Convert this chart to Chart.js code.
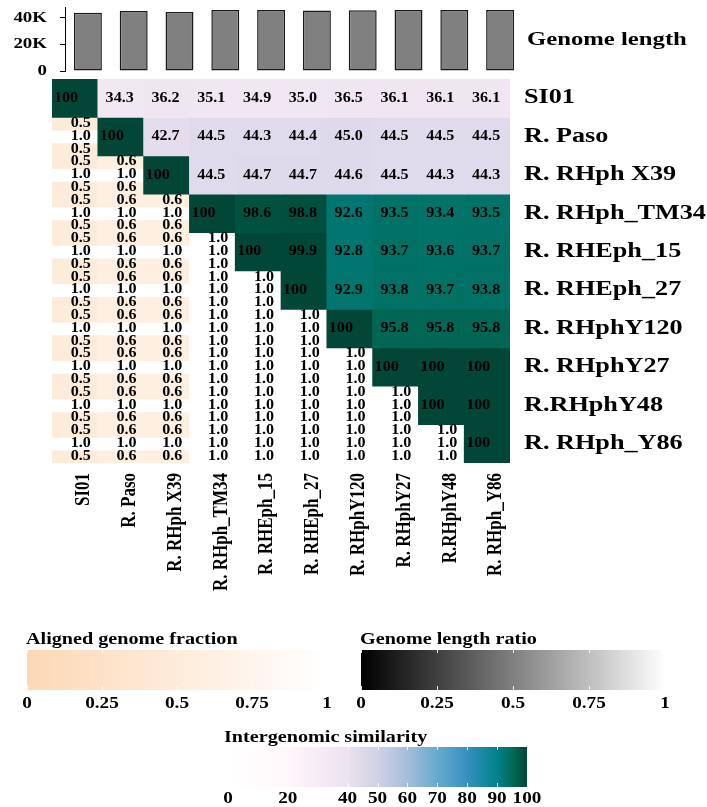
<!DOCTYPE html>
<html lang="en">
<head>
  <meta charset="UTF-8" />
  <title>Intergenomic similarity</title>
  <script src="https://cdn.jsdelivr.net/npm/chart.js"></script>
  <style>
    html, body { margin: 0; padding: 0; background: #fff; }
    body { position: relative; width: 707px; height: 807px; overflow: hidden; }
    canvas { position: absolute; }
  </style>
</head>
<body>
  <canvas id="lenChart" width="707" height="80" style="left:0;top:0"></canvas>
  <canvas id="heatChart" width="707" height="545" style="left:0;top:75px"></canvas>
  <canvas id="fracLegend" width="353" height="100" style="left:0;top:620px"></canvas>
  <canvas id="ratioLegend" width="354" height="100" style="left:353px;top:620px"></canvas>
  <canvas id="simLegend" width="400" height="87" style="left:180px;top:720px"></canvas>

  <script>
    // genomes, in row / column order
    const names = ["SI01", "R. Paso", "R. RHph X39", "R. RHph_TM34", "R. RHEph_15",
                   "R. RHEph_27", "R. RHphY120", "R. RHphY27", "R.RHphY48", "R. RHph_Y86"];
    const genomeLength = [44000, 45300, 44600, 46000, 46000, 45600, 45800, 46000, 46000, 46000];
    const lengthTicks = [0, 20000, 40000];

    // upper triangle: row i starts at column i
    const simRows = [
      [100, 34.3, 36.2, 35.1, 34.9, 35.0, 36.5, 36.1, 36.1, 36.1],
      [100, 42.7, 44.5, 44.3, 44.4, 45.0, 44.5, 44.5, 44.5],
      [100, 44.5, 44.7, 44.7, 44.6, 44.5, 44.3, 44.3],
      [100, 98.6, 98.8, 92.6, 93.5, 93.4, 93.5],
      [100, 99.9, 92.8, 93.7, 93.6, 93.7],
      [100, 92.9, 93.8, 93.7, 93.8],
      [100, 95.8, 95.8, 95.8],
      [100, 100, 100],
      [100, 100],
      [100]
    ];
    // lower triangle: row i has columns 0..i-1
    const fracRow = [
      [], [0.5], [0.5, 0.6], [0.5, 0.6, 0.6], [0.5, 0.6, 0.6, 1.0],
      [0.5, 0.6, 0.6, 1.0, 1.0], [0.5, 0.6, 0.6, 1.0, 1.0, 1.0],
      [0.5, 0.6, 0.6, 1.0, 1.0, 1.0, 1.0], [0.5, 0.6, 0.6, 1.0, 1.0, 1.0, 1.0, 1.0],
      [0.5, 0.6, 0.6, 1.0, 1.0, 1.0, 1.0, 1.0, 1.0]
    ];
    const lenRatio = [
      [], [1.0], [1.0, 1.0], [1.0, 1.0, 1.0], [1.0, 1.0, 1.0, 1.0],
      [1.0, 1.0, 1.0, 1.0, 1.0], [1.0, 1.0, 1.0, 1.0, 1.0, 1.0],
      [1.0, 1.0, 1.0, 1.0, 1.0, 1.0, 1.0], [1.0, 1.0, 1.0, 1.0, 1.0, 1.0, 1.0, 1.0],
      [1.0, 1.0, 1.0, 1.0, 1.0, 1.0, 1.0, 1.0, 1.0]
    ];
    const fracCol = [
      [], [0.5], [0.5, 0.6], [0.5, 0.6, 0.6], [0.5, 0.6, 0.6, 1.0],
      [0.5, 0.6, 0.6, 1.0, 1.0], [0.5, 0.6, 0.6, 1.0, 1.0, 1.0],
      [0.5, 0.6, 0.6, 1.0, 1.0, 1.0, 1.0], [0.5, 0.6, 0.6, 1.0, 1.0, 1.0, 1.0, 1.0],
      [0.5, 0.6, 0.6, 1.0, 1.0, 1.0, 1.0, 1.0, 1.0]
    ];

    // colour scales
    const simStops = [[0, "#ffffff"], [20, "#fff7fb"], [40, "#ece2f0"], [50, "#d0d1e6"], [60, "#a6bddb"],
                      [70, "#67a9cf"], [80, "#3690c0"], [90, "#02818a"], [95, "#016c59"], [100, "#014636"]];
    const fracStops = [[0, "#fdd8b5"], [1, "#ffffff"]];
    const ratioStops = [[0, "#000000"], [1, "#ffffff"]];
    const fracTicks = [0, 0.25, 0.5, 0.75, 1];
    const simTicks = [0, 20, 40, 50, 60, 70, 80, 90, 100];

    const SERIF = "'Liberation Serif', 'DejaVu Serif', serif";

    function hex(c) {
      return [1, 3, 5].map(k => parseInt(c.slice(k, k + 2), 16));
    }
    function colorAt(stops, v) {
      if (v <= stops[0][0]) return stops[0][1];
      for (let k = 1; k < stops.length; k++) {
        if (v <= stops[k][0]) {
          const t = (v - stops[k - 1][0]) / (stops[k][0] - stops[k - 1][0]);
          const a = hex(stops[k - 1][1]), b = hex(stops[k][1]);
          const m = a.map((x, n) => Math.round(x + (b[n] - x) * t));
          return `rgb(${m[0]},${m[1]},${m[2]})`;
        }
      }
      return stops[stops.length - 1][1];
    }

    // text a little wider than the font, like the picture
    function sText(ctx, str, x, y, align, sx) {
      ctx.save();
      ctx.translate(x, y);
      ctx.scale(sx, 1);
      ctx.textAlign = align;
      ctx.fillText(str, 0, 0);
      ctx.restore();
    }

    // ---------- genome length bars ----------
    new Chart(document.getElementById("lenChart"), {
      type: "bar",
      data: {
        labels: names,
        datasets: [{
          data: genomeLength,
          backgroundColor: "#808080",
          borderColor: "#1a1a1a",
          borderWidth: 1.5,
          borderSkipped: false,
          barPercentage: 0.61,
          categoryPercentage: 1
        }]
      },
      options: {
        responsive: false,
        animation: false,
        events: [],
        layout: { padding: { left: 0, right: 184, top: 7, bottom: 9 } },
        plugins: { legend: { display: false }, tooltip: { enabled: false } },
        scales: {
          x: { display: false },
          y: {
            min: 0,
            max: 48300,
            afterBuildTicks: s => { s.ticks = lengthTicks.map(v => ({ value: v })); },
            afterFit: s => { s.width = 65; },
            ticks: { display: false },
            grid: { drawOnChartArea: false, drawTicks: true, tickLength: 5, color: "#000" },
            border: { display: true, color: "#000", width: 1 }
          }
        }
      },
      plugins: [{
        id: "lenText",
        afterDraw(chart) {
          const ctx = chart.ctx, y = chart.scales.y;
          ctx.save();
          ctx.fillStyle = "#000";
          ctx.textBaseline = "middle";
          ctx.font = `bold 14px ${SERIF}`;
          lengthTicks.forEach(v => {
            sText(ctx, v === 0 ? "0" : v / 1000 + "K", 47, y.getPixelForValue(v), "right", 1.35);
          });
          ctx.font = `bold 19px ${SERIF}`;
          sText(ctx, "Genome length", 527, 40, "left", 1.3);
          ctx.restore();
        }
      }]
    });

    // ---------- heatmap ----------
    const cells = [];
    simRows.forEach((row, i) => {
      cells.push({
        data: names.map((_, j) => (j >= i ? [i, i + 1] : null)),
        backgroundColor: names.map((_, j) => (j >= i ? colorAt(simStops, row[j - i]) : "rgba(0,0,0,0)"))
      });
    });
    [fracRow, lenRatio, fracCol].forEach((mat, s) => {
      const stops = s === 1 ? ratioStops : fracStops;
      mat.forEach((row, i) => {
        if (!row.length) return;
        cells.push({
          data: names.map((_, j) => (j < i ? [i + s / 3, i + (s + 1) / 3] : null)),
          backgroundColor: names.map((_, j) => (j < i ? colorAt(stops, row[j]) : "rgba(0,0,0,0)"))
        });
      });
    });
    cells.forEach(d => {
      d.grouped = false;
      d.barPercentage = 1;
      d.categoryPercentage = 1;
      d.borderWidth = 0;
    });

    new Chart(document.getElementById("heatChart"), {
      type: "bar",
      data: { labels: names, datasets: cells },
      options: {
        responsive: false,
        animation: false,
        events: [],
        layout: { padding: { left: 52, right: 197, top: 4, bottom: 157 } },
        plugins: { legend: { display: false }, tooltip: { enabled: false } },
        scales: {
          x: { display: false },
          y: { display: false, min: 0, max: names.length, reverse: true }
        }
      },
      plugins: [{
        id: "cellText",
        afterDatasetsDraw(chart) {
          const ctx = chart.ctx, xs = chart.scales.x, ys = chart.scales.y;
          const half = (xs.getPixelForValue(1) - xs.getPixelForValue(0)) / 2;
          ctx.save();
          ctx.fillStyle = "#000";
          ctx.textBaseline = "middle";
          ctx.font = `bold 14px ${SERIF}`;
          simRows.forEach((row, i) => {
            row.forEach((v, k) => {
              const j = i + k, cx = xs.getPixelForValue(j), cy = ys.getPixelForValue(i + 0.5);
              if (v === 100) sText(ctx, "100", cx - half + 2, cy, "left", 1.15);
              else sText(ctx, v.toFixed(1), cx - 1, cy, "center", 1.15);
            });
          });
          [fracRow, lenRatio, fracCol].forEach((mat, s) => {
            mat.forEach((row, i) => {
              row.forEach((v, j) => {
                const cx = xs.getPixelForValue(j) + half - 7;
                const cy = ys.getPixelForValue(i + (s + 0.5) / 3) - 0.5;
                sText(ctx, v.toFixed(1), cx, cy, "right", 1.15);
              });
            });
          });
          // row names
          ctx.font = `bold 20px ${SERIF}`;
          names.forEach((n, i) => {
            sText(ctx, n, xs.right + 14, ys.getPixelForValue(i + 0.5), "left", 1.31);
          });
          // column names, rotated
          ctx.font = `bold 17px ${SERIF}`;
          names.forEach((n, j) => {
            ctx.save();
            ctx.translate(xs.getPixelForValue(j) + 9, ys.bottom + 10);
            ctx.rotate(-Math.PI / 2);
            ctx.scale(1, 1.2);
            ctx.textAlign = "right";
            ctx.fillText(n, 0, 0);
            ctx.restore();
          });
          ctx.restore();
        }
      }]
    });

    // ---------- colour legends ----------
    function legend(id, title, stops, ticks, pad, tickY, titleX, titleY, fmt) {
      const lo = ticks[0], hi = ticks[ticks.length - 1];
      new Chart(document.getElementById(id), {
        type: "bar",
        data: {
          labels: [""],
          datasets: [{
            data: [[lo, hi]],
            barPercentage: 1,
            categoryPercentage: 1,
            borderWidth: 0,
            backgroundColor: c => {
              const ca = c.chart.chartArea;
              if (!ca) return "#fff";
              const x = c.chart.scales.x;
              const g = c.chart.ctx.createLinearGradient(x.getPixelForValue(lo), 0, x.getPixelForValue(hi), 0);
              stops.forEach(([v, col]) => g.addColorStop((v - lo) / (hi - lo), col));
              return g;
            }
          }]
        },
        options: {
          indexAxis: "y",
          responsive: false,
          animation: false,
          events: [],
          layout: { padding: pad },
          plugins: { legend: { display: false }, tooltip: { enabled: false } },
          scales: {
            x: { display: false, min: lo, max: hi },
            y: { display: false }
          }
        },
        plugins: [{
          id: "legendText",
          afterDraw(chart) {
            const ctx = chart.ctx, x = chart.scales.x, ca = chart.chartArea;
            ctx.save();
            ctx.strokeStyle = "rgba(255,255,255,0.9)";
            ctx.lineWidth = 1;
            ticks.forEach(v => {
              const px = Math.round(x.getPixelForValue(v)) + 0.5;
              ctx.beginPath();
              ctx.moveTo(px, ca.top); ctx.lineTo(px, ca.top + 3);
              ctx.moveTo(px, ca.bottom - 4); ctx.lineTo(px, ca.bottom);
              ctx.stroke();
            });
            ctx.fillStyle = "#000";
            ctx.textBaseline = "alphabetic";
            ctx.font = `bold 16px ${SERIF}`;
            ticks.forEach(v => sText(ctx, fmt(v), x.getPixelForValue(v), tickY, "center", 1.2));
            sText(ctx, title, titleX, titleY, "left", 1.26);
            ctx.restore();
          }
        }]
      });
    }

    legend("fracLegend", "Aligned genome fraction", fracStops, fracTicks,
           { left: 27, right: 26, top: 30, bottom: 30 }, 88, 26, 24, v => String(v));
    legend("ratioLegend", "Genome length ratio", ratioStops, fracTicks,
           { left: 8, right: 42, top: 30, bottom: 30 }, 88, 7, 24, v => String(v));
    legend("simLegend", "Intergenomic similarity", simStops, simTicks,
           { left: 48, right: 53, top: 27, bottom: 20 }, 83, 44, 22, v => String(v));
  </script>
</body>
</html>
